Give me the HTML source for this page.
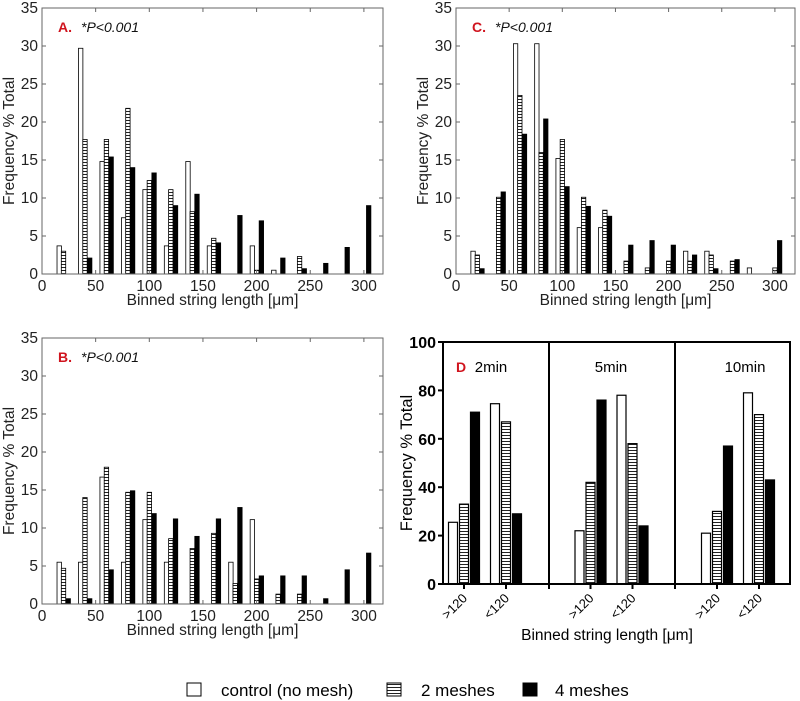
<!DOCTYPE html>
<html><head><meta charset="utf-8">
<style>
body{margin:0;background:#fff;}
svg{display:block;font-family:"Liberation Sans",sans-serif;}
</style></head>
<body>
<svg id="fig" width="800" height="701" viewBox="0 0 800 701" xmlns="http://www.w3.org/2000/svg">
<defs>
<pattern id="hatch" width="4" height="3" patternUnits="userSpaceOnUse">
<rect width="4" height="3" fill="#fff"/>
<line x1="0" y1="0.5" x2="4" y2="0.5" stroke="#222" stroke-width="1"/>
</pattern>
</defs>
<g id="root"></g>
<g font-size="17">
<rect x="187" y="683" width="14" height="13" fill="#fff" stroke="#000"/>
<text x="221" y="696">control (no mesh)</text>
<rect x="387" y="683" width="14" height="13" fill="url(#hatch)" stroke="#000"/>
<text x="421" y="696">2 meshes</text>
<rect x="523" y="683" width="14" height="13" fill="#000" stroke="#000"/>
<text x="555" y="696">4 meshes</text>
</g>
</svg>
<script>
const bins=[20,40,60,80,100,120,140,160,180,200,220,240,260,280,300];
const xTicks=[0,50,100,150,200,250,300];
const yTicks=[0,5,10,15,20,25,30,35];
const aControl=[3.7,29.7,14.8,7.4,11.1,3.7,14.8,3.7,0,3.7,0.5,0,0,0,0];
const aMesh2=[3.0,17.7,17.7,21.8,12.3,11.1,8.2,4.7,0,0.5,0,2.3,0,0,0];
const aMesh4=[0,2.1,15.4,14.0,13.3,9.0,10.5,4.1,7.7,7.0,2.1,0.7,1.4,3.5,9.0];
const bControl=[5.5,5.5,16.7,5.5,11.1,5.5,0,0,5.5,11.1,0,0,0,0,0];
const bMesh2=[4.7,14.0,18.0,14.7,14.7,8.6,7.3,9.3,2.7,3.3,1.3,1.3,0,0,0];
const bMesh4=[0.7,0.7,4.5,14.9,11.9,11.2,8.9,11.2,12.7,3.7,3.7,3.7,0.7,4.5,6.7];
const cControl=[3.0,0,30.3,30.3,15.2,6.1,6.1,0,0,0,3.0,3.0,0,0.8,0];
const cMesh2=[2.5,10.1,23.5,16.0,17.7,10.1,8.4,1.7,0.8,1.7,1.7,2.5,1.7,0,0.8];
const cMesh4=[0.7,10.8,18.4,20.4,11.5,8.9,7.6,3.8,4.4,3.8,2.5,0.7,1.9,0,4.4];
const dPanels=["2min","5min","10min"];
const dCats=[">120","<120"];
const dControl=[25.5,74.5,22,78,21,79];
const dMesh2=[33,67,42,58,30,70];
const dMesh4=[71,29,76,24,57,43];
const dYTicks=[0,20,40,60,80,100];

const NS="http://www.w3.org/2000/svg";
const root=document.getElementById('root');
function mk(tag,attrs,parent,txt){const e=document.createElementNS(NS,tag);for(const k in attrs)e.setAttribute(k,attrs[k]);if(txt!==undefined)e.textContent=txt;(parent||root).appendChild(e);return e;}

function hist(id,letter,g,ctrl,m2,m4){
  const grp=mk('g',{});
  
  
  const xs=v=>g.x0+v*g.k;
  const ys=v=>g.y0-(g.y0-g.yt)*v/35;
  const series=[[ctrl,-6.0,'#fff','control'],[m2,-2.0,'url(#hatch)','2-meshes'],[m4,2.4,'#000','4-meshes']];
  series.forEach(([arr,off,fill,nm])=>{
    arr.forEach((v,i)=>{
      if(v<=0)return;
      const x1=xs(bins[i]+off),x2=xs(bins[i]+off+4.1);
      const r=mk('rect',{x:x1,y:ys(v),width:x2-x1,height:ys(0)-ys(v),fill:fill,stroke:'#000','stroke-width':0.8},grp);
      
      
    });
  });
  const fr=mk('rect',{x:g.x0,y:g.yt,width:g.xr-g.x0,height:g.y0-g.yt,fill:'none',stroke:'#666','stroke-width':1},grp);
  
  
  xTicks.forEach(t=>{
    const x=xs(t);
    mk('line',{x1:x,x2:x,y1:g.y0,y2:g.y0-4,stroke:'#666'},grp);
    mk('line',{x1:x,x2:x,y1:g.yt,y2:g.yt+4,stroke:'#666'},grp);
    const tl=mk('text',{x:x,y:g.y0+17,'text-anchor':'middle','font-size':15.5,fill:'#222'},grp,String(t));
    
    
  });
  yTicks.forEach(t=>{
    const y=ys(t);
    mk('line',{x1:g.x0,x2:g.x0+4,y1:y,y2:y,stroke:'#666'},grp);
    mk('line',{x1:g.xr,x2:g.xr-4,y1:y,y2:y,stroke:'#666'},grp);
    const tl=mk('text',{x:g.x0-4,y:y+5,'text-anchor':'end','font-size':15.5,fill:'#222'},grp,String(t));
    
    
  });
  const xt=mk('text',{x:(g.x0+g.xr)/2,y:g.y0+31,'text-anchor':'middle','font-size':15.5,fill:'#222'},grp,'Binned string length [\u03bcm]');
  
  
  const cy=(g.y0+g.yt)/2;
  const yt=mk('text',{x:g.x0-28,y:cy,'text-anchor':'middle','font-size':15.5,fill:'#222',transform:`rotate(-90 ${g.x0-28} ${cy})`},grp,'Frequency % Total');
  
  
  const lt=mk('text',{x:g.x0+16,y:g.yt+24,'font-size':14,'font-weight':'bold',fill:'#d0141e'},grp,letter);
  
  
  const pt=mk('text',{x:g.x0+39,y:g.yt+24,'font-size':14,'font-style':'italic',fill:'#111'},grp,'*P<0.001');
  
  
}
hist('a','A.',{x0:42,k:1.073,xr:383,y0:274,yt:8},aControl,aMesh2,aMesh4);
hist('b','B.',{x0:42,k:1.073,xr:383,y0:604,yt:338},bControl,bMesh2,bMesh4);
hist('c','C.',{x0:456,k:1.063,xr:795,y0:274,yt:8},cControl,cMesh2,cMesh4);

// Panel D
(function(){
  const grp=mk('g',{});
  
  
  const X0=443,XR=790,Y0=584,YT=342;
  const ys=v=>Y0-(Y0-YT)*v/100;
  const cx=i=>464+Math.floor(i/2)*126.5+(i%2)*42;
  const ser=[[dControl,-11,'#fff','control'],[dMesh2,0,'url(#hatch)','2-meshes'],[dMesh4,11,'#000','4-meshes']];
  ser.forEach(([arr,off,fill,nm])=>{
    arr.forEach((v,i)=>{
      const r=mk('rect',{x:cx(i)+off-4.5,y:ys(v),width:9,height:ys(0)-ys(v),fill:fill,stroke:'#000','stroke-width':1.2},grp);
      
      
    });
  });
  const fr=mk('rect',{x:X0,y:YT,width:XR-X0,height:Y0-YT,fill:'none',stroke:'#000','stroke-width':2},grp);
  
  
  [549,675].forEach(x=>{
    const l=mk('line',{x1:x,x2:x,y1:YT,y2:Y0+5,stroke:'#000','stroke-width':2},grp);
    
    
  });
  dYTicks.forEach(t=>{
    const y=ys(t);
    mk('line',{x1:X0-5,x2:X0,y1:y,y2:y,stroke:'#000','stroke-width':2},grp);
    const tl=mk('text',{x:X0-7,y:y+6,'text-anchor':'end','font-size':16,'font-weight':'bold'},grp,String(t));
    
    
  });
  for(let i=0;i<6;i++){
    const x=cx(i);
    mk('line',{x1:x,x2:x,y1:Y0,y2:Y0+5,stroke:'#000','stroke-width':2},grp);
    const tl=mk('text',{x:x+4,y:Y0+15,'text-anchor':'end','font-size':13,transform:`rotate(-45 ${x+4} ${Y0+15})`},grp,dCats[i%2]);
    
    
  }
  const px=[491,611,745];
  dPanels.forEach((p,i)=>{
    const t=mk('text',{x:px[i],y:372,'text-anchor':'middle','font-size':15},grp,p);
    
    
  });
  const lt=mk('text',{x:456,y:372,'font-size':14,'font-weight':'bold',fill:'#d0141e'},grp,'D');
  
  
  const xt=mk('text',{x:607,y:640,'text-anchor':'middle','font-size':15.5},grp,'Binned string length [\u03bcm]');
  
  
  const cy=(Y0+YT)/2;
  const yt=mk('text',{x:412,y:cy,'text-anchor':'middle','font-size':16.5,transform:`rotate(-90 412 ${cy})`},grp,'Frequency % Total');
  
  
})();
</script>
</body></html>
